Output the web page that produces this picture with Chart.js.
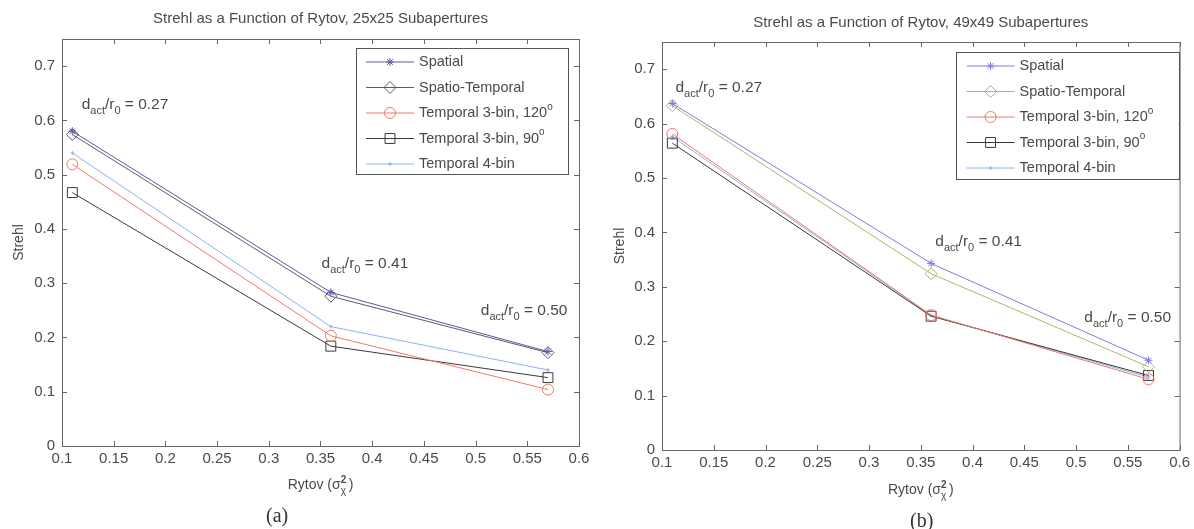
<!DOCTYPE html>
<html>
<head>
<meta charset="utf-8">
<title>Strehl vs Rytov</title>
<script src="https://cdn.jsdelivr.net/npm/chart.js@4.4.1/dist/chart.umd.min.js"></script>
<style>
  html, body { margin: 0; padding: 0; background: #fff; }
  body { width: 1194px; height: 529px; position: relative; overflow: hidden; }
  .panel { position: absolute; top: 0; height: 529px; }
  .caption { position: absolute; font-family: "Liberation Serif", "DejaVu Serif", serif; font-size: 20px; color: #333; }
</style>
</head>
<body>
<div class="panel" style="left:0; width:600px"><canvas id="chartA" width="600" height="529"></canvas></div>
<div class="panel" style="left:600px; width:594px"><canvas id="chartB" width="594" height="529"></canvas></div>
<div class="caption" style="left:266px; top:504px">(a)</div>
<div class="caption" style="left:910px; top:509px">(b)</div>
<script>
// Rytov variance at the three turbulence cases
const rytov = [0.11, 0.36, 0.57];
const ratios = ['0.27', '0.41', '0.50'];

// (a) 25x25 subapertures
const spatialA     = [0.580, 0.283, 0.174];
const spatioTempA  = [0.574, 0.276, 0.172];
const temporal120A = [0.519, 0.203, 0.104];
const temporal90A  = [0.467, 0.184, 0.126];
const temporal4A   = [0.540, 0.220, 0.140];

// (b) 49x49 subapertures
const spatialB     = [0.637, 0.343, 0.165];
const spatioTempB  = [0.633, 0.324, 0.153];
const temporal120B = [0.581, 0.248, 0.130];
const temporal90B  = [0.564, 0.246, 0.137];
const temporal4B   = [0.576, 0.247, 0.134];

const labels = ['Spatial', 'Spatio-Temporal', 'Temporal 3-bin, 120°', 'Temporal 3-bin, 90°', 'Temporal 4-bin'];

const FONT = '"Liberation Sans", Arial, sans-serif';
const TEXT = '#4a4a4a';

function series(label, values, color, style, radius) {
    return {
        label: label,
        data: rytov.map((x, i) => ({ x: x, y: values[i] })),
        borderColor: color,
        backgroundColor: 'transparent',
        borderWidth: 1,
        pointStyle: style,
        pointRadius: radius,
        pointBorderColor: color,
        pointBackgroundColor: 'transparent',
        pointBorderWidth: 1,
        tension: 0
    };
}

// draws text runs, some of them as sub/superscript
function drawRich(ctx, parts, x, y, size) {
    for (const [t, kind] of parts) {
        const s = kind ? Math.round(size * 0.72) : size;
        ctx.font = s + 'px ' + FONT;
        const dy = kind === 'sub' ? size * 0.33 : kind === 'sup' ? -size * 0.42 : 0;
        ctx.fillText(t, x, y + dy);
        x += ctx.measureText(t).width;
    }
    return x;
}

function labelParts(text) {
    if (text.endsWith('°')) return [[text.slice(0, -1)], ['o', 'sup']];
    return [[text]];
}

// MATLAB-like box with inward ticks on all four sides
const boxPlugin = {
    id: 'matlabBox',
    afterDatasetsDraw(chart) {
        const { ctx, chartArea: a, scales } = chart;
        ctx.save();
        ctx.strokeStyle = '#666';
        ctx.lineWidth = 1;
        ctx.strokeRect(a.left + 0.5, a.top + 0.5, a.right - a.left, a.bottom - a.top);
        ctx.beginPath();
        scales.x.ticks.forEach(t => {
            const px = Math.round(scales.x.getPixelForValue(t.value)) + 0.5;
            ctx.moveTo(px, a.bottom); ctx.lineTo(px, a.bottom - 5);
            ctx.moveTo(px, a.top); ctx.lineTo(px, a.top + 5);
        });
        scales.y.ticks.forEach(t => {
            const py = Math.round(scales.y.getPixelForValue(t.value)) + 0.5;
            ctx.moveTo(a.left, py); ctx.lineTo(a.left + 5, py);
            ctx.moveTo(a.right, py); ctx.lineTo(a.right - 5, py);
        });
        ctx.stroke();
        ctx.restore();
    }
};

// legend in a bordered box inside the plot
const boxLegend = {
    id: 'boxLegend',
    afterDraw(chart, args, opts) {
        const { ctx, chartArea: a } = chart;
        const left = a.right - opts.inset - opts.width;
        const top = a.top + opts.top;
        ctx.save();
        ctx.fillStyle = '#fff';
        ctx.fillRect(left, top, opts.width, opts.height);
        ctx.strokeStyle = '#555';
        ctx.lineWidth = 1;
        ctx.strokeRect(Math.round(left) + 0.5, Math.round(top) + 0.5, opts.width, opts.height);
        chart.data.datasets.forEach((ds, i) => {
            const y = top + 14 + i * 25.5;
            ctx.strokeStyle = ds.borderColor;
            ctx.beginPath();
            ctx.moveTo(left + opts.lineFrom, y);
            ctx.lineTo(left + opts.lineFrom + 48, y);
            ctx.stroke();
            ctx.fillStyle = 'rgba(0,0,0,0)';
            Chart.helpers.drawPoint(ctx, { pointStyle: ds.pointStyle, radius: ds.pointRadius, borderWidth: 1, rotation: 0 }, left + opts.lineFrom + 24, y);
            ctx.fillStyle = TEXT;
            ctx.textBaseline = 'middle';
            drawRich(ctx, labelParts(ds.label), left + opts.lineFrom + 53, y, 14.5);
        });
        ctx.restore();
    }
};

// d_act/r_0 annotations and the x axis title
const notesPlugin = {
    id: 'ratioNotes',
    afterDraw(chart, args, opts) {
        const { ctx, chartArea: a, scales: { x, y } } = chart;
        ctx.save();
        ctx.fillStyle = TEXT;
        ctx.textBaseline = 'alphabetic';
        opts.notes.forEach((n, i) => {
            drawRich(ctx, [['d'], ['act', 'sub'], ['/r'], ['0', 'sub'], [' = ' + ratios[i]]],
                x.getPixelForValue(n.x), y.getPixelForValue(n.y), 15.5);
        });
        // Rytov (sigma^2_chi)
        ctx.font = '14px ' + FONT;
        const w = ctx.measureText('Rytov (σ)').width + 8;
        let cx = (a.left + a.right) / 2 - w / 2;
        const cy = a.bottom + opts.titleGap;
        cx = drawRich(ctx, [['Rytov (σ']], cx, cy, 14);
        ctx.font = 'bold 10px ' + FONT;
        ctx.fillText('2', cx, cy - 6);
        ctx.font = '10px ' + FONT;
        ctx.fillText('χ', cx, cy + 5);
        drawRich(ctx, [[')']], cx + 8, cy, 14);
        ctx.restore();
    }
};

function makeOptions(title, titlePad, notes, legend, yTitlePad, titleGap) {
    return {
        responsive: false,
        animation: false,
        events: [],
        layout: { padding: { left: 0, right: legend.right, top: 0, bottom: 0 } },
        scales: {
            x: {
                type: 'linear', min: 0.1, max: 0.6,
                grid: { display: false, drawTicks: false },
                border: { display: false },
                ticks: { stepSize: 0.05, padding: 4, color: TEXT, font: { family: FONT, size: 15 },
                    callback: v => String(Number(v.toFixed(2))) },
                afterFit: s => { s.height = legend.xHeight; }
            },
            y: {
                min: 0, max: 0.75,
                grid: { display: false, drawTicks: false },
                border: { display: false },
                ticks: { stepSize: 0.1, includeBounds: false, padding: 7, color: TEXT, font: { family: FONT, size: 15 },
                    callback: v => String(Number(v.toFixed(2))) },
                title: { display: true, text: 'Strehl', color: TEXT, font: { family: FONT, size: 14 }, padding: { top: yTitlePad, bottom: 0 } },
                afterFit: s => { s.width = 62; }
            }
        },
        plugins: {
            legend: { display: false },
            tooltip: { enabled: false },
            title: { display: true, text: title, fullSize: false, color: TEXT, font: { family: FONT, size: 15, weight: 'normal' }, padding: titlePad },
            boxLegend: legend,
            ratioNotes: { notes: notes, titleGap: titleGap }
        }
    };
}

new Chart(document.getElementById('chartA'), {
    type: 'line',
    data: {
        datasets: [
            series(labels[0], spatialA, '#5858a8', 'star', 4),
            series(labels[1], spatioTempA, '#5c5c5c', 'rectRot', 6),
            series(labels[2], temporal120A, '#f07868', 'circle', 5.5),
            series(labels[3], temporal90A, '#3a3a3a', 'rect', 7),
            series(labels[4], temporal4A, '#8cb2ee', 'cross', 2)
        ]
    },
    options: makeOptions('Strehl as a Function of Rytov, 25x25 Subapertures', { top: 10, bottom: 11 },
        [{ x: 0.119, y: 0.621 }, { x: 0.351, y: 0.328 }, { x: 0.505, y: 0.241 }],
        { right: 21, xHeight: 83, inset: 11, top: 9, width: 212, height: 126, lineFrom: 10 }, 11, 43),
    plugins: [boxPlugin, boxLegend, notesPlugin]
});

new Chart(document.getElementById('chartB'), {
    type: 'line',
    data: {
        datasets: [
            series(labels[0], spatialB, '#7c7ce0', 'star', 4),
            series(labels[1], spatioTempB, '#a8b868', 'rectRot', 6),
            series(labels[2], temporal120B, '#f07868', 'circle', 5.5),
            series(labels[3], temporal90B, '#3a3a3a', 'rect', 7),
            series(labels[4], temporal4B, '#8cb2ee', 'cross', 2)
        ]
    },
    options: makeOptions('Strehl as a Function of Rytov, 49x49 Subapertures', { top: 14, bottom: 10 },
        [{ x: 0.113, y: 0.658 }, { x: 0.364, y: 0.375 }, { x: 0.508, y: 0.235 }],
        { right: 12, xHeight: 79, inset: 1, top: 10, width: 223, height: 127, lineFrom: 11 }, 12, 44),
    plugins: [boxPlugin, boxLegend, notesPlugin]
});
</script>
</body>
</html>
